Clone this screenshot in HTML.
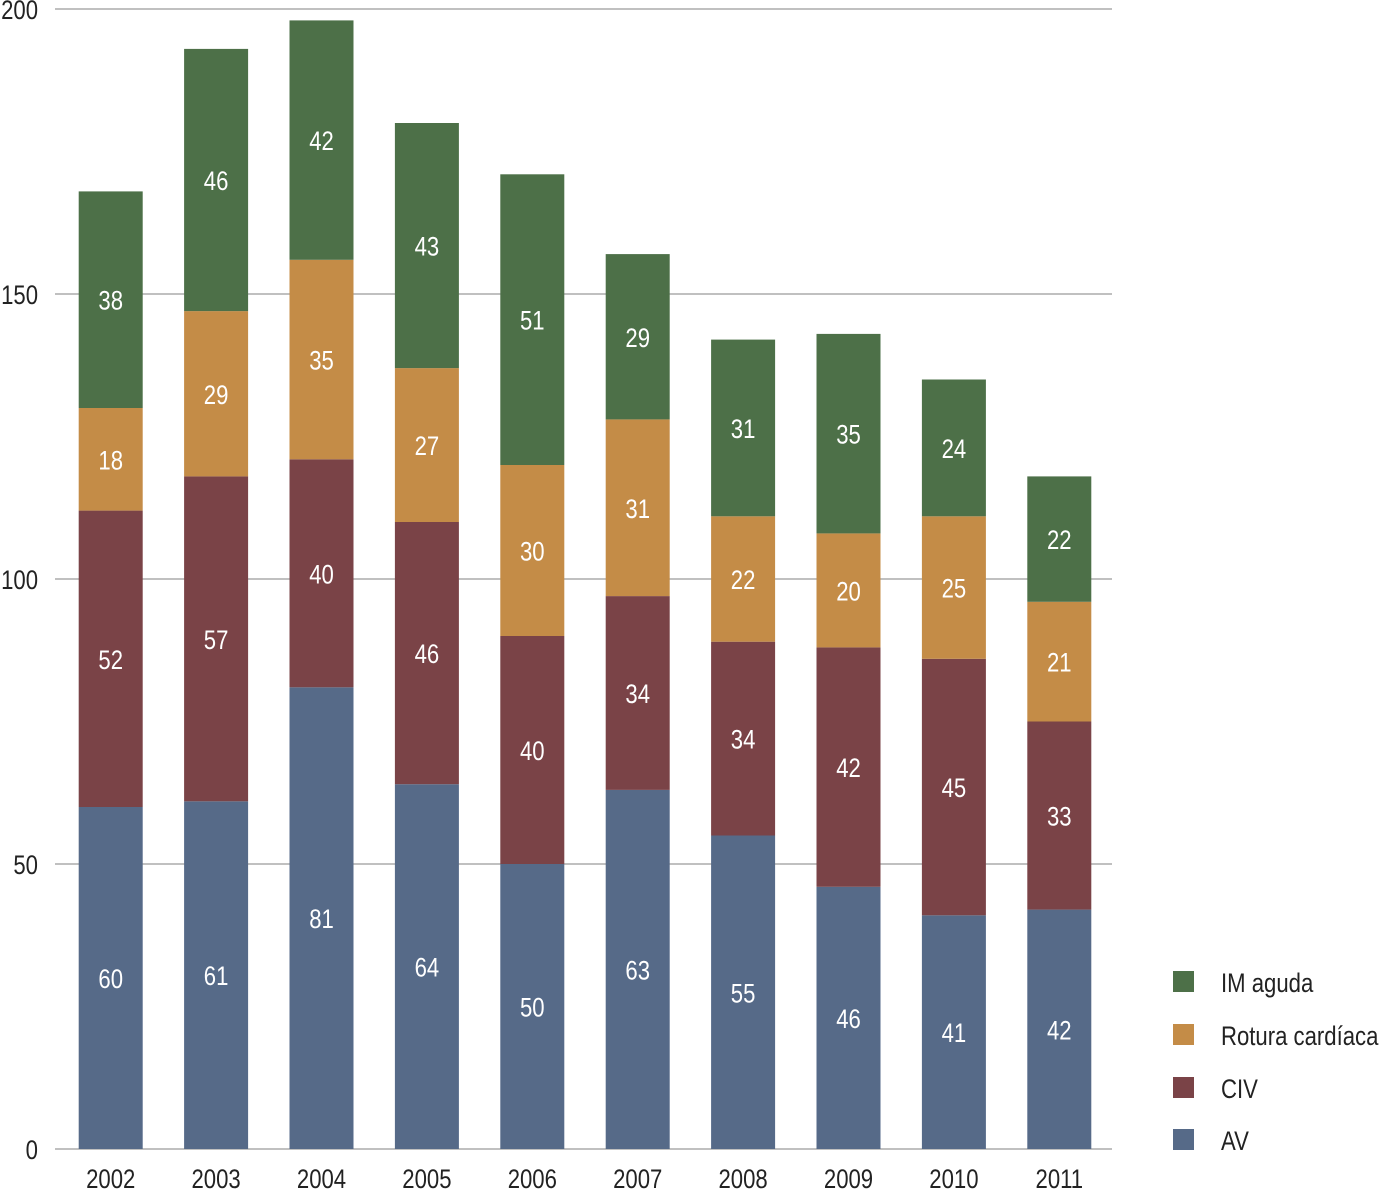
<!DOCTYPE html>
<html><head><meta charset="utf-8"><style>
body{margin:0;background:#fff;}
svg text{font-family:"Liberation Sans Narrow","Liberation Sans",sans-serif;}
</style></head><body>
<svg id="chart" width="1388" height="1189"></svg>
<script>
const categories=["2002","2003","2004","2005","2006","2007","2008","2009","2010","2011"];
const seriesNames=["AV","CIV","Rotura cardíaca","IM aguda"];
const av=[60,61,81,64,50,63,55,46,41,42];
const civ=[52,57,40,46,40,34,34,42,45,33];
const rotura=[18,29,35,27,30,31,22,20,25,21];
const imAguda=[38,46,42,43,51,29,31,35,24,22];
const yTicks=[0,50,100,150,200];
const colors=["#566a88","#7a4347","#c48c47","#4d7048"];
const series=[av,civ,rotura,imAguda];
const NS="http://www.w3.org/2000/svg";
const svg=document.getElementById("chart");
const y0=1149,pxPer=5.7,x0=58,band=105.4,bw=64,sx=0.82;
const y=v=>y0-v*pxPer;
const xc=i=>x0+band*(i+0.5);
function mk(t,a){const e=document.createElementNS(NS,t);for(const k in a)e.setAttribute(k,a[k]);svg.appendChild(e);return e;}
function txt(x,yy,anchor,size,fill,s){const e=mk("text",{x:0,y:0,"text-anchor":anchor,"font-size":size,fill:fill,transform:`translate(${x},${yy}) scale(${sx},1)`});e.textContent=s;return e;}
yTicks.forEach(t=>{
  const l=mk("line",{x1:55,x2:1112,y1:y(t),y2:y(t),stroke:"#9a9a9a","stroke-width":1.2});
  
  
  const tx=txt(38,y(t)+10,"end",27,"#222",t);
  
  
});
categories.forEach((c,i)=>{
  let cum=0;
  series.forEach((s,k)=>{
    const v=s[i];
    const r=mk("rect",{x:xc(i)-bw/2,y:y(cum+v),width:bw,height:v*pxPer,fill:colors[k]});
    
    
    const t=txt(xc(i),y(cum+v/2)+10,"middle",27,"#fff",v);
    
    
    cum+=v;
  });
  const t=txt(xc(i),1188,"middle",27,"#222",c);
  
  
});
const legY=[1140,1088,1035,982];
seriesNames.forEach((n,k)=>{
  const r=mk("rect",{x:1173,y:legY[k]-11,width:21,height:21,fill:colors[k]});
  
  
  const t=txt(1221,legY[k]+10,"start",27,"#222",n);
  
  
});
</script>
</body></html>
